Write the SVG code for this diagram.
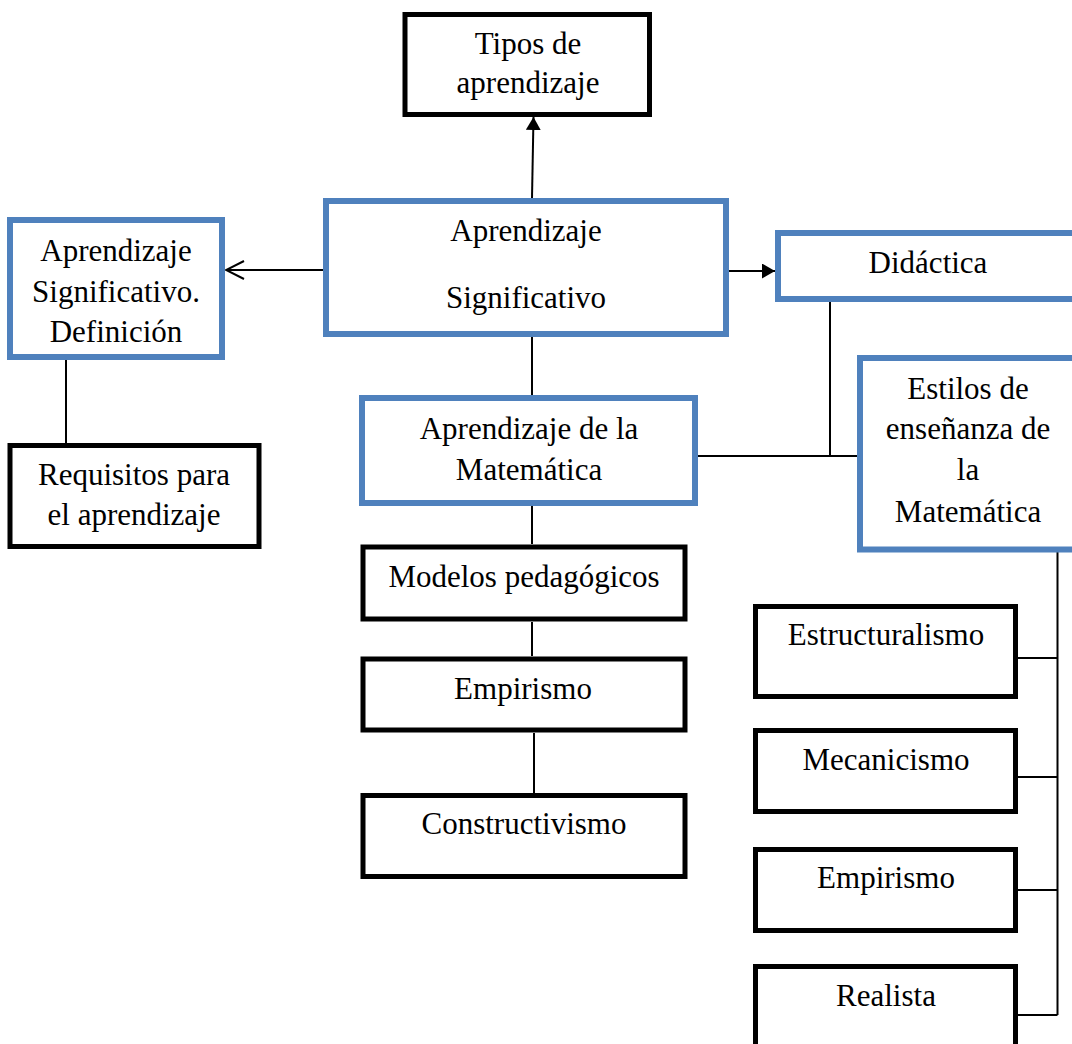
<svg xmlns="http://www.w3.org/2000/svg" width="1072" height="1044" viewBox="0 0 1072 1044">
  <style>
    .blue { fill: #ffffff; stroke: #4F81BD; stroke-width: 6; }
    .black { fill: #ffffff; stroke: #000000; stroke-width: 5; }
    .t { font-family: "Liberation Serif", "Times New Roman", serif; font-size: 31px; fill: #000000; text-anchor: middle; }
    .c { stroke: #000000; stroke-width: 2; fill: none; }
  </style>
  <defs>
    <marker id="tri" viewBox="0 0 13 15" refX="13" refY="7.5" markerWidth="13" markerHeight="15" orient="auto" markerUnits="userSpaceOnUse">
      <path d="M0,0 L13,7.5 L0,15 z" fill="#000000"/>
    </marker>
    <marker id="open" viewBox="0 0 20 20" refX="19" refY="10" markerWidth="20" markerHeight="20" orient="auto" markerUnits="userSpaceOnUse">
      <path d="M1,1 L19,10 L1,19" fill="none" stroke="#000000" stroke-width="2"/>
    </marker>
  </defs>
  <rect width="1072" height="1044" fill="#ffffff"/>

  <g id="connectors">
    <line class="c" x1="532" y1="198" x2="533.5" y2="117" marker-end="url(#tri)"/>
    <line class="c" x1="323" y1="270" x2="226" y2="270" marker-end="url(#open)"/>
    <line class="c" x1="729" y1="271" x2="775" y2="271" marker-end="url(#tri)"/>
    <line class="c" x1="532" y1="337" x2="532" y2="395"/>
    <line class="c" x1="830" y1="302" x2="830" y2="456"/>
    <line class="c" x1="698" y1="456" x2="857" y2="456"/>
    <line class="c" x1="66" y1="359" x2="66" y2="443"/>
    <line class="c" x1="532" y1="506" x2="532" y2="544"/>
    <line class="c" x1="532" y1="622" x2="532" y2="656"/>
    <line class="c" x1="534" y1="733" x2="534" y2="793"/>
    <path class="c" d="M1057.5,552 V1015 M1018,658 H1057.5 M1018,777 H1057.5 M1018,890 H1057.5 M1018,1015 H1057.5"/>
  </g>

  <g id="tipos">
    <rect class="black" x="405" y="14.5" width="244.5" height="100"/>
    <text class="t" x="528" y="54">Tipos de</text>
    <text class="t" x="528" y="93">aprendizaje</text>
  </g>

  <g id="aprendizaje-significativo">
    <rect class="blue" x="326" y="201" width="400" height="133"/>
    <text class="t" x="526" y="241">Aprendizaje</text>
    <text class="t" x="526" y="308">Significativo</text>
  </g>

  <g id="definicion">
    <rect class="blue" x="10" y="220" width="212" height="137"/>
    <text class="t" x="116" y="261">Aprendizaje</text>
    <text class="t" x="116" y="302">Significativo.</text>
    <text class="t" x="116" y="342">Definición</text>
  </g>

  <g id="requisitos">
    <rect class="black" x="10" y="445.5" width="249" height="101"/>
    <text class="t" x="134" y="485">Requisitos para</text>
    <text class="t" x="134" y="525">el aprendizaje</text>
  </g>

  <g id="didactica">
    <rect class="blue" x="778" y="233" width="310" height="66"/>
    <text class="t" x="928" y="273">Didáctica</text>
  </g>

  <g id="estilos">
    <rect class="blue" x="860" y="358" width="230" height="191.5"/>
    <text class="t" x="968" y="399">Estilos de</text>
    <text class="t" x="968" y="439">enseñanza de</text>
    <text class="t" x="968" y="480">la</text>
    <text class="t" x="968" y="522">Matemática</text>
  </g>

  <g id="aprendizaje-matematica">
    <rect class="blue" x="362" y="398" width="333" height="105"/>
    <text class="t" x="529" y="439">Aprendizaje de la</text>
    <text class="t" x="529" y="480">Matemática</text>
  </g>

  <g id="modelos">
    <rect class="black" x="363" y="547" width="322" height="72"/>
    <text class="t" x="524" y="587">Modelos pedagógicos</text>
  </g>

  <g id="empirismo-1">
    <rect class="black" x="363" y="659" width="322" height="71"/>
    <text class="t" x="523" y="699">Empirismo</text>
  </g>

  <g id="constructivismo">
    <rect class="black" x="363" y="795.5" width="322" height="81"/>
    <text class="t" x="524" y="834">Constructivismo</text>
  </g>

  <g id="estructuralismo">
    <rect class="black" x="755.5" y="606.5" width="260" height="90"/>
    <text class="t" x="886" y="645">Estructuralismo</text>
  </g>

  <g id="mecanicismo">
    <rect class="black" x="755.5" y="730.5" width="260" height="81"/>
    <text class="t" x="886" y="770">Mecanicismo</text>
  </g>

  <g id="empirismo-2">
    <rect class="black" x="755.5" y="849.5" width="260" height="81"/>
    <text class="t" x="886" y="888">Empirismo</text>
  </g>

  <g id="realista">
    <rect class="black" x="755.5" y="966.5" width="260" height="100"/>
    <text class="t" x="886" y="1006">Realista</text>
  </g>
</svg>
